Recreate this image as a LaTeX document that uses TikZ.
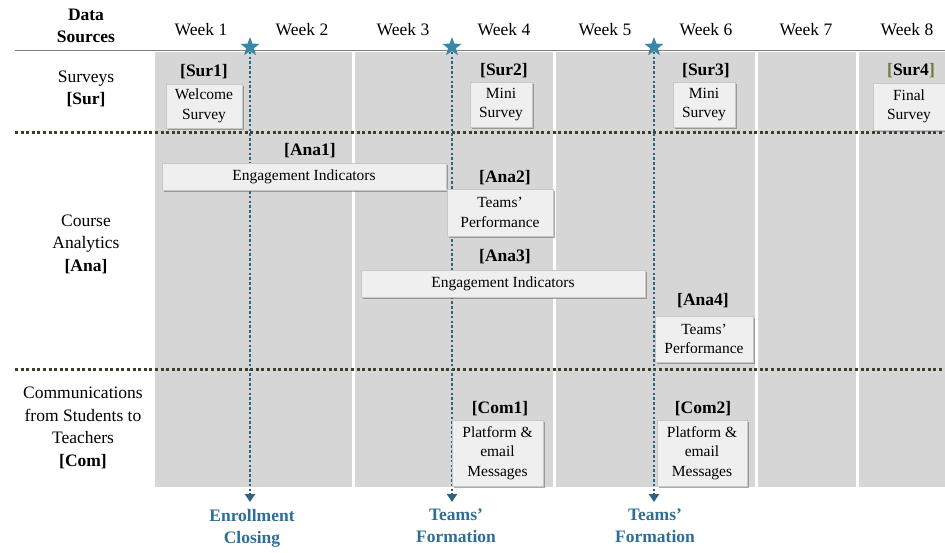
\documentclass[tikz,border=0pt]{standalone}
\usepackage{fontspec}
\setmainfont{Liberation Serif}
\usetikzlibrary{shapes.geometric,arrows.meta,shadows}
\definecolor{bggray}{HTML}{D6D6D6}
\definecolor{boxfill}{HTML}{EFEFEF}
\definecolor{olivedot}{HTML}{3E3E2C}
\definecolor{tealline}{HTML}{2E6480}
\definecolor{starblue}{HTML}{3A86A6}
\definecolor{labelblue}{HTML}{2F6F96}
\definecolor{bracketgreen}{HTML}{6A7A3A}
\begin{document}
\begin{tikzpicture}[x=1pt,y=-1pt,
  weekl/.style={font=\fontsize{17.5}{20}\selectfont, inner sep=0pt},
  srcl/.style={font=\fontsize{17.5}{22.5}\selectfont, align=center, inner sep=0pt},
  tagl/.style={font=\fontsize{17.5}{20}\selectfont\bfseries, inner sep=0pt},
  evbox/.style={draw=black!22, fill=boxfill, line width=0.6pt, inner sep=0pt, align=center,
    font=\fontsize{15.5}{19.5}\selectfont,
    drop shadow={shadow xshift=2pt, shadow yshift=-2pt, fill=black!60, opacity=0.55}},
  evstar/.style={star, star points=5, star point ratio=2.4, fill=starblue, inner sep=0pt, minimum size=20pt},
  evline/.style={tealline, line width=2.8pt, dash pattern=on 2.6pt off 2.2pt,
    -{Triangle[width=10pt,length=8pt]}, shorten >=7pt},
  secline/.style={olivedot, line width=3pt, dash pattern=on 3pt off 2.6pt},
  evlabel/.style={text=labelblue, font=\fontsize{17.5}{22}\selectfont\bfseries, align=center, inner sep=0pt, anchor=north}
]
\useasboundingbox (0,0) rectangle (945,552);
% gray columns
\fill[bggray] (155,52) rectangle (352,487);
\fill[bggray] (355,52) rectangle (553,487);
\fill[bggray] (556,52) rectangle (755,487);
\fill[bggray] (758,52) rectangle (856,487);
\fill[bggray] (859,52) rectangle (945,487);
% header line and section separators
\draw[black!50, line width=1.5pt] (15,50.5) -- (945,50.5);
\draw[secline] (15,132) -- (945,132);
\draw[secline] (15,369) -- (945,369);
% header texts
\node[srcl, font=\fontsize{17.5}{22}\selectfont\bfseries] (hdr) at (86,26) {Data\\Sources};
\node[weekl] (w1) at (201,30) {Week 1};
\node[weekl] (w2) at (302,30) {Week 2};
\node[weekl] (w3) at (403,30) {Week 3};
\node[weekl] (w4) at (504,30) {Week 4};
\node[weekl] (w5) at (605,30) {Week 5};
\node[weekl] (w6) at (706,30) {Week 6};
\node[weekl] (w7) at (806,30) {Week 7};
\node[weekl] (w8) at (907,30) {Week 8};
% source labels
\node[srcl] (sur) at (86,89) {Surveys\\\textbf{[Sur]}};
\node[srcl] (ana) at (86,244) {Course\\Analytics\\\textbf{[Ana]}};
\node[srcl] (com) at (83,428) {Communications\\from Students to\\Teachers\\\textbf{[Com]}};
% event markers
\node[evlabel] (ev1) at (252,509) {Enrollment\\Closing};
\node[evlabel] (ev2) at (456,509) {Teams’\\Formation};
\node[evlabel] (ev3) at (655,509) {Teams’\\Formation};
\coordinate (p1) at (250,47);
\coordinate (p2) at (452,47);
\coordinate (p3) at (654,47);
\draw[evline] (p1) -- (p1 |- ev1.north);
\draw[evline] (p2) -- (p2 |- ev2.north);
\draw[evline] (p3) -- (p3 |- ev3.north);
\node[evstar] (st1) at (p1) {};
\node[evstar] (st2) at (p2) {};
\node[evstar] (st3) at (p3) {};
% surveys
\node[tagl] (t1) at (204,72) {[Sur1]};
\node[evbox, minimum width=76pt, minimum height=44pt] (b1) at (204,106) {Welcome\\Survey};
\node[tagl] (t2) at (504,71) {[Sur2]};
\node[evbox, minimum width=62pt, minimum height=45pt] (b2) at (501,104.5) {Mini\\Survey};
\node[tagl] (t3) at (706,71) {[Sur3]};
\node[evbox, minimum width=62pt, minimum height=45pt] (b3) at (704,104.5) {Mini\\Survey};
\node[tagl] (t4) at (911,71) {\textcolor{bracketgreen}{[}Sur4\textcolor{bracketgreen}{]}};
\node[evbox, minimum width=72pt, minimum height=47pt] (b4) at (909,106.5) {Final\\Survey};
% analytics
\node[tagl] (a1t) at (310,151) {[Ana1]};
\node[evbox, minimum width=284pt, minimum height=27pt] (a1) at (304,176.5) {Engagement Indicators};
\node[tagl] (a2t) at (505,178) {[Ana2]};
\node[evbox, minimum width=106pt, minimum height=47pt] (a2) at (500,212.5) {Teams'\\Performance};
\node[tagl] (a3t) at (505,257) {[Ana3]};
\node[evbox, minimum width=284pt, minimum height=27pt] (a3) at (503,283.5) {Engagement Indicators};
\node[tagl] (a4t) at (703,301) {[Ana4]};
\node[evbox, minimum width=98pt, minimum height=46pt] (a4) at (704,339) {Teams’\\Performance};
% communications
\node[tagl] (c1t) at (500,409) {[Com1]};
\node[evbox, minimum width=91pt, minimum height=66pt] (c1) at (497.5,453) {Platform \&\\email\\Messages};
\node[tagl] (c2t) at (703,409) {[Com2]};
\node[evbox, minimum width=90pt, minimum height=66pt] (c2) at (702,453) {Platform \&\\email\\Messages};
\end{tikzpicture}
\end{document}
